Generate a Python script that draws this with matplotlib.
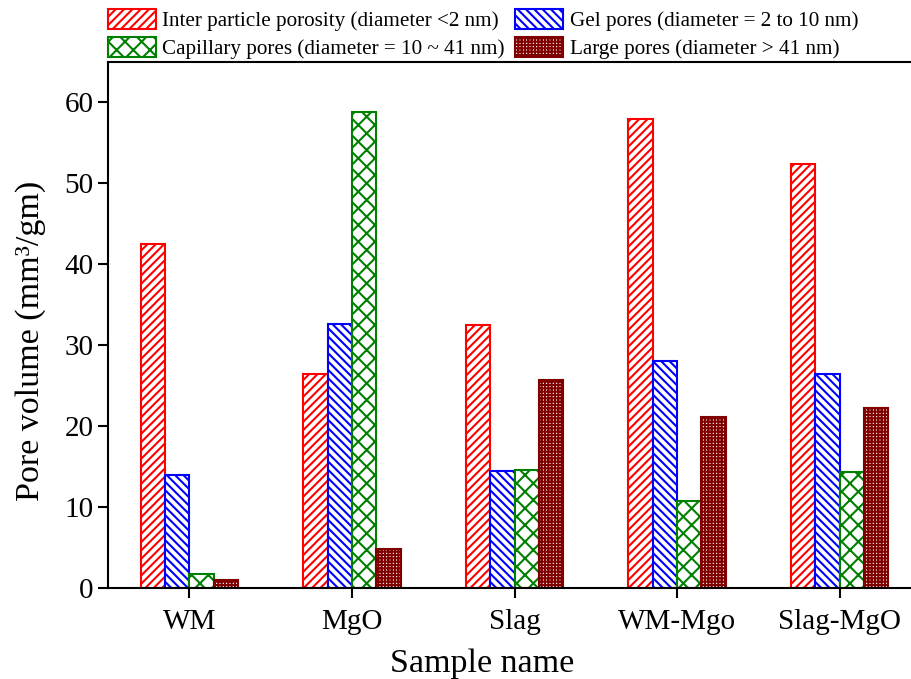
import matplotlib
matplotlib.use("Agg")
import matplotlib.pyplot as plt
import numpy as np
from matplotlib.patches import Patch

plt.rcParams['font.family'] = ['Liberation Serif', 'DejaVu Serif']
plt.rcParams['hatch.linewidth'] = 1.5

samples = ["WM", "MgO", "Slag", "WM-Mgo", "Slag-MgO"]
inter_particle = [42.5, 26.5, 32.5, 58.0, 52.4]
gel_pores = [14.0, 32.6, 14.5, 28.0, 26.5]
capillary_pores = [1.7, 58.8, 14.6, 10.7, 14.3]
large_pores = [1.0, 4.8, 25.7, 21.1, 22.3]

series_labels = [
    "Inter particle porosity (diameter <2 nm)",
    "Gel pores (diameter = 2 to 10 nm)",
    "Capillary pores (diameter = 10 ~ 41 nm)",
    "Large pores (diameter > 41 nm)",
]
series_values = [inter_particle, gel_pores, capillary_pores, large_pores]
colors = ["#ff0000", "#0000ff", "#008000", "#800000"]
hatches = ["////", "\\\\\\\\", "xx", "+++++"]

fig = plt.figure(figsize=(9.12, 6.79), dpi=100)
ax = fig.add_axes([108 / 912, 1 - 588 / 679, (921 - 108) / 912, (588 - 62) / 679])

x = np.arange(len(samples))
width = 0.15
offsets = [-1.5, -0.5, 0.5, 1.5]
for vals, col, hat, off in zip(series_values, colors, hatches, offsets):
    ax.bar(x + off * width, vals, width, facecolor="white", edgecolor=col,
           hatch=hat, linewidth=1.5, zorder=2)

ax.set_xlim(-0.5, 4.5)
ax.set_ylim(0, 65)
ax.set_xticks(x)
ax.set_xticklabels(samples)
ax.set_yticks(np.arange(0, 61, 10))
ax.tick_params(axis="both", labelsize=21, direction="out", length=7, width=1.5)
ax.tick_params(axis="x", pad=8)
for side in ["left", "bottom", "top", "right"]:
    ax.spines[side].set_linewidth(1.5)

ax.set_xlabel("Sample name", fontsize=24.5)
ax.set_ylabel("Pore volume (mm³/gm)", fontsize=24.5)
ax.xaxis.set_label_coords(0.46, -0.115)
ax.yaxis.set_label_coords(-0.076, 0.47)

# legend filled row by row: two entries per row
handles = [Patch(facecolor="white", edgecolor=c, hatch=h, linewidth=1.5)
           for c, h in zip(colors, hatches)]
order = [0, 2, 1, 3]
fig.legend([handles[i] for i in order], [series_labels[i] for i in order],
           loc="upper left", ncol=2, frameon=False,
           bbox_to_anchor=(108 / 912, 1 - 9 / 679), fontsize=15.2,
           handlelength=2.27, handleheight=1.1, handletextpad=0.3,
           columnspacing=0.5, labelspacing=0.25, borderaxespad=0, borderpad=0)

fig.savefig("out.png", dpi=100)
